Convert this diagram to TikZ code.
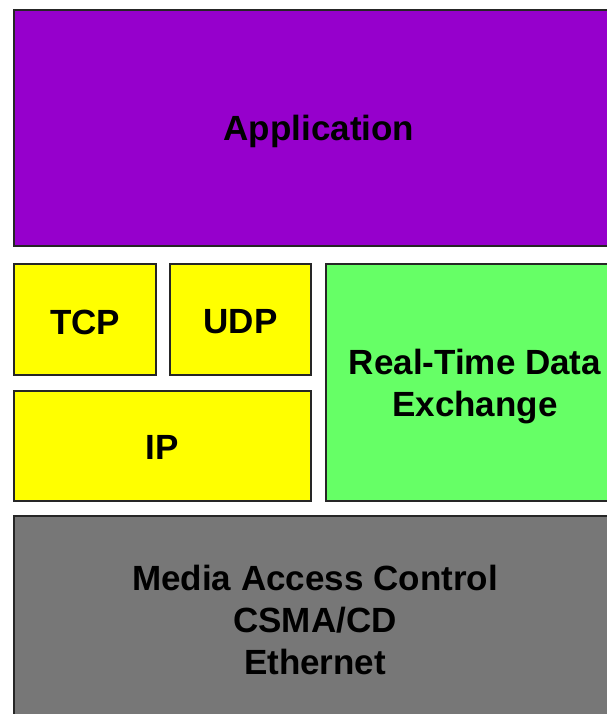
\documentclass[tikz,border=0pt]{standalone}
\usepackage{fontspec}
\setmainfont{Liberation Sans}
\definecolor{apppurple}{RGB}{150,0,204}
\definecolor{protoyellow}{RGB}{255,255,0}
\definecolor{rtgreen}{RGB}{102,255,102}
\definecolor{macgray}{RGB}{119,119,119}
\begin{document}
\begin{tikzpicture}[x=1pt,y=-1pt,
  layer/.style={draw=black!85, line width=1.5pt},
  lbl/.style={font=\fontsize{35}{42}\selectfont\bfseries, align=center, text=black, inner sep=0pt}]
\useasboundingbox (0,0) rectangle (607,714);
\clip (0,0) rectangle (607,714);
\fill[white] (0,0) rectangle (607,714);
% layers
\draw[layer, fill=apppurple] (14,10) rectangle (625,246);
\node[lbl] (app) at (319,131) {Application};
\draw[layer, fill=protoyellow] (14,264) rectangle (156,375);
\node[lbl] (tcp) at (85,322) {TCP};
\draw[layer, fill=protoyellow] (170,264) rectangle (311,375);
\node[lbl] (udp) at (240.5,322) {UDP};
\draw[layer, fill=protoyellow] (14,391) rectangle (311,501);
\node[lbl] (ip) at (162.5,447) {IP};
\draw[layer, fill=rtgreen] (326,264) rectangle (625,501);
\node[lbl] (rtde) at (475,387) {Real-Time Data\\Exchange};
\draw[layer, fill=macgray] (14,516) rectangle (625,730);
\node[lbl] (mac) at (315,620) {Media Access Control\\CSMA/CD\\Ethernet};
\end{tikzpicture}
\end{document}
